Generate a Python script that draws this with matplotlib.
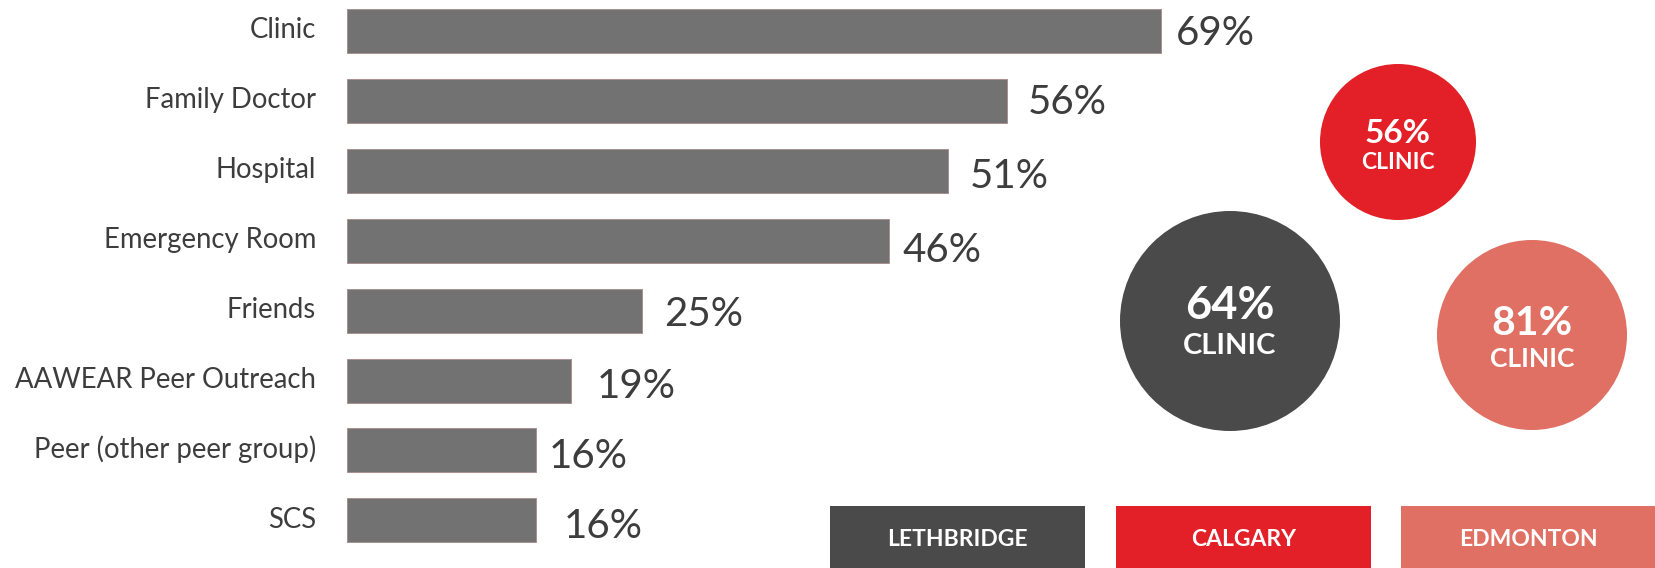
import matplotlib
matplotlib.use("Agg")
import matplotlib.pyplot as plt
from matplotlib.patches import Circle, Rectangle

plt.rcParams['font.family'] = ['Lato', 'DejaVu Sans']

# survey data: where people go for care
categories = ["Clinic", "Family Doctor", "Hospital", "Emergency Room", "Friends",
              "AAWEAR Peer Outreach", "Peer (other peer group)", "SCS"]
values = [69, 56, 51, 46, 25, 19, 16, 16]

# top answer by city
cities = ["LETHBRIDGE", "CALGARY", "EDMONTON"]
city_values = [64, 56, 81]
city_top = ["CLINIC", "CLINIC", "CLINIC"]

# layout (pixels)
W, H = 1656, 568
BAR_LEFT = 347
PX_PER_PCT = 11.79
ROW0, ROW_PITCH, BAR_PX = 31, 69.9, 44
label_dx = [15, 21, 22, 13, 22, 26, 13, 28]
label_dy = [14, 13.5, 17.5, 21, 15, 18, 17.5, 18]

city_colors = ["#4a4a4a", "#e32028", "#e07063"]
circle_xy = [(1230, 321), (1398, 142), (1532, 335)]
circle_r = [110, 78, 95]
pct_size = [32.5, 24, 29.5]
sub_size = [21, 16.5, 19]
pct_base = [-2, 1, 0]     # baseline of the percentage, relative to circle centre
sub_base = [33, 27, 32]
box_x = [830, 1116, 1401]
box_w, box_top = 255, 506

TEXT = "#3d3d3d"

fig = plt.figure(figsize=(W / 100, H / 100), dpi=100)

# horizontal bars
ax = fig.add_axes([BAR_LEFT / W, 0, (W - BAR_LEFT) / W, 1])
ax.set_xlim(0, (W - BAR_LEFT) / PX_PER_PCT)
ax.set_ylim((H - ROW0) / ROW_PITCH, -ROW0 / ROW_PITCH)
ypos = list(range(len(categories)))
ax.barh(ypos, values, height=BAR_PX / ROW_PITCH, color="#727272",
        edgecolor="#a89090", linewidth=0.7)

for i, (cat, v) in enumerate(zip(categories, values)):
    ax.annotate(cat, xy=(0, i), xytext=(-31, -7.5), textcoords="offset pixels",
                ha="right", va="baseline", fontsize=19.8, color=TEXT,
                annotation_clip=False)
    ax.annotate(f"{v}%", xy=(v, i), xytext=(label_dx[i], -label_dy[i]),
                textcoords="offset pixels", ha="left", va="baseline",
                fontsize=29, color=TEXT, annotation_clip=False)
ax.axis("off")

# city bubbles and legend boxes, in pixel space
ov = fig.add_axes([0, 0, 1, 1])
ov.set_xlim(0, W)
ov.set_ylim(H, 0)
ov.axis("off")

for k, city in enumerate(cities):
    cx, cy = circle_xy[k]
    ov.add_patch(Circle((cx, cy), circle_r[k], color=city_colors[k], lw=0))
    ov.text(cx, cy + pct_base[k], f"{city_values[k]}%", ha="center", va="baseline",
            color="white", fontsize=pct_size[k], fontweight="bold")
    ov.text(cx, cy + sub_base[k], city_top[k], ha="center", va="baseline",
            color="white", fontsize=sub_size[k], fontweight="bold")

    ov.add_patch(Rectangle((box_x[k], box_top), box_w, H - box_top,
                           color=city_colors[k], lw=0))
    ov.text(box_x[k] + box_w / 2, 546, city, ha="center", va="baseline",
            color="white", fontsize=16.5, fontweight="bold")

fig.savefig("out.png", dpi=100)
